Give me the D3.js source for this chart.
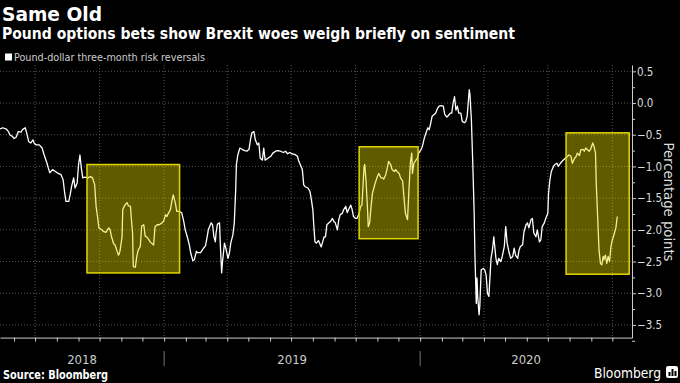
<!DOCTYPE html>
<html>
<head>
<meta charset="utf-8">
<script src="https://cdn.jsdelivr.net/npm/d3@7"></script>
<style>
  body { margin: 0; background: #000; }
  svg { display: block; }
  text { font-family: "DejaVu Sans Condensed", "DejaVu Sans", sans-serif; }
</style>
</head>
<body>
<div id="chart"></div>
<script>
// Controlling constants
const svgWidth = 680,
  svgHeight = 383;
const plot = { left: 0, right: 632, top: 65, bottom: 337.6 };

// Data: day counts from the first observation, and the risk reversal values
const startDay = "2018-05-12";
const endDay = "2020-10-29";
const dayOffsets = [
  0, 4, 9, 12, 14, 18, 20, 23, 26, 30, 32, 36, 38, 41, 44, 47, 49, 52, 56, 60,
  63, 67, 69, 71, 75, 79, 83, 87, 90, 92, 94, 98, 100, 102, 105, 107, 110, 112, 114, 116,
  118, 121, 125, 129, 132, 135, 137, 139, 141,
  145, 148, 151, 155, 157, 159, 162, 164, 167, 169, 171, 174, 175, 178, 181, 183, 186, 187, 189, 190,
  193, 195, 197, 200, 202, 205, 207, 209, 212, 214, 217, 219, 221, 224, 227, 231, 233, 236, 238, 240,
  243, 245, 247, 250, 252, 256, 259, 262, 264, 267, 270, 272, 275, 277, 280, 282, 286,
  289, 293, 295, 297, 301, 303, 305, 307, 308, 310, 313, 314, 316, 317, 320, 322, 325, 327, 329, 332,
  334, 336, 337, 339, 342, 345, 349, 352, 355, 357, 359, 362, 364, 367, 369, 371, 374, 376, 378, 382,
  386, 389, 393, 396, 400, 404, 407, 410, 413, 416, 420, 424, 426, 428, 431, 433, 435, 439, 442,
  444, 446, 447, 449, 451, 454, 456, 458, 462, 464, 466, 469, 471, 474, 476, 478, 481, 483, 485, 488,
  490, 493, 495, 497, 500, 502, 504, 507, 509, 512, 514, 516, 519, 520, 522, 524, 525, 527, 529, 531,
  533, 535, 538, 540, 543, 545, 547, 550, 552, 554, 557, 559, 562, 564, 566, 569, 571, 574, 576, 578,
  581, 583, 585, 587, 588, 590, 593, 595, 597,
  600, 602, 605, 608, 610, 612, 614, 616, 619, 621, 624, 626, 629, 632, 634, 637, 639, 642, 644, 646,
  648, 650, 652, 654, 657, 659, 662, 664, 666, 669, 670, 672, 674, 676, 677, 679, 680, 681, 683, 684,
  686, 689, 691, 693, 695, 697, 700, 702, 704, 707, 709, 711, 714, 716, 719, 721, 723, 726,
  728, 731, 733, 735, 738, 740, 742, 745, 747, 750, 752, 754, 757, 759, 761, 764, 766, 769, 771, 773,
  776, 778, 781, 782, 784, 786, 789, 791, 794, 796, 799, 802, 805, 808, 811, 814, 816, 819, 821, 823,
  826, 828, 831, 833, 835, 838, 840, 842, 845, 847, 849, 850, 852, 854, 856, 858, 860, 861, 863, 865,
  867, 869, 871, 873, 876, 878, 880,
];
const riskReversals = [
  -0.41, -0.39, -0.41, -0.45, -0.5, -0.53, -0.56, -0.54, -0.45, -0.46,
  -0.42, -0.39, -0.47, -0.61, -0.63, -0.58, -0.64, -0.66, -0.66, -0.71,
  -0.82, -0.95, -1.03, -1.1, -1.05, -1.08, -1.11, -1.13, -1.21, -1.4,
  -1.55, -1.55, -1.45, -1.32, -1.18, -1.34, -1.26, -0.97, -0.82, -1.03,
  -1.18, -1.17, -1.18, -1.16, -1.18, -1.29, -1.63, -1.79, -1.97,
  -2.0, -2.03, -2.04, -1.97, -2.0, -2.11, -2.22, -2.24, -2.34, -2.4,
  -2.34, -2.11, -1.68, -1.61, -1.57, -1.62, -1.63, -1.79, -2.05, -2.58,
  -2.59, -2.42, -2.32, -2.26, -1.94, -1.92, -2.1, -2.11, -2.15, -2.19,
  -2.22, -2.24, -1.95, -1.92, -1.92, -1.89, -1.87, -1.76, -1.79, -1.74,
  -1.68, -1.55, -1.45, -1.58, -1.71, -1.71, -1.73, -1.87, -2.0, -2.11,
  -2.24, -2.37, -2.49, -2.47, -2.34, -2.36, -2.36,
  -2.31, -2.25, -2.13, -2.0, -1.89, -1.92, -2.11, -2.19, -2.05, -1.91,
  -1.89, -2.21, -2.68, -2.53, -2.21, -2.29, -2.45, -2.37, -2.21, -2.08,
  -1.89, -1.37, -0.97, -0.82, -0.71, -0.73, -0.75, -0.76, -0.73, -0.58,
  -0.47, -0.45, -0.58, -0.66, -0.63, -0.87, -0.9, -0.71, -0.9, -0.87,
  -0.84, -0.79, -0.76, -0.75, -0.76, -0.78, -0.76, -0.8, -0.78, -0.8,
  -0.81, -0.84, -0.92, -0.97, -1.05, -1.29, -1.32, -1.34, -1.4,
  -1.53, -1.68, -1.87, -2.19, -2.21, -2.17, -2.22, -2.27, -2.11, -2.11,
  -1.92, -1.89, -1.87, -1.82, -1.87, -1.89, -2.0, -1.84, -1.76, -1.74,
  -1.68, -1.63, -1.73, -1.68, -1.61, -1.68, -1.79, -1.82, -1.82, -1.74,
  -1.63, -1.61, -1.0, -0.97, -1.26, -1.68, -1.95, -1.89, -1.63, -1.42,
  -1.34, -1.26, -1.16, -1.11, -1.18, -1.18, -1.2, -1.13, -1.03, -0.92,
  -0.97, -1.05, -1.08, -1.05, -1.08, -1.11, -1.18, -1.23, -1.5, -1.74,
  -1.84, -1.37, -0.95, -0.79, -1.11, -0.95, -0.9, -0.87, -0.79,
  -0.74, -0.69, -0.55, -0.45, -0.39, -0.42, -0.32, -0.21, -0.18, -0.16,
  -0.08, -0.05, -0.04, -0.05, -0.18, -0.22, -0.2, -0.16, -0.16, 0.0,
  0.1, -0.11, -0.05, -0.16, -0.16, -0.29, -0.31, -0.29, -0.21, 0.21,
  0.13, -0.26, -0.95, -1.74, -2.37, -3.16, -2.76, -3.05, -3.34, -3.21,
  -2.63, -2.61, -2.63, -2.71, -3.0, -3.05, -2.45, -2.32, -2.11, -2.45,
  -2.55, -2.45, -2.5, -2.42, -2.26, -1.95, -2.21, -2.37,
  -2.45, -2.42, -2.29, -2.4, -2.45, -2.32, -2.26, -2.24, -2.03, -1.92,
  -1.89, -1.97, -1.84, -1.82, -2.05, -2.11, -2.0, -2.19, -2.16, -1.95,
  -1.89, -1.82, -1.74, -1.42, -1.21, -1.08, -1.0, -0.97, -0.95, -1.0,
  -0.95, -0.91, -0.88, -0.85, -0.82, -0.84, -0.95, -0.87, -0.85, -0.79,
  -0.83, -0.74, -0.73, -0.76, -0.71, -0.74, -0.76, -0.73, -0.63, -0.69,
  -0.79, -1.26, -1.79, -2.32, -2.53, -2.55, -2.42, -2.47, -2.4, -2.53,
  -2.42, -2.5, -2.26, -2.16, -2.05, -1.97, -1.79,
];

// Highlighted Brexit episodes
const highlightStarts = ["2018-09-13", "2019-10-06", "2020-07-27"];
const highlightEnds = ["2019-01-23", "2019-12-29", "2020-10-25"];
const highlightTops = [-0.97, -0.69, -0.47];
const highlightBottoms = [-2.68, -2.14, -2.7];

const yMajorTicks = [0.5, 0.0, -0.5, -1.0, -1.5, -2.0, -2.5, -3.0, -3.5];
const yMinorTicks = [0.25, -0.25, -0.75, -1.25, -1.75, -2.25, -2.75, -3.25, -3.75];
const yearLabels = ["2018", "2019", "2020"];

const parseDay = d3.timeParse("%Y-%m-%d");
const start = parseDay(startDay);
const data = dayOffsets.map((d, i) => ({
  date: d3.timeDay.offset(start, d),
  value: riskReversals[i],
}));

const svg = d3
  .select("#chart")
  .append("svg")
  .attr("width", svgWidth)
  .attr("height", svgHeight)
  .style("background", "#000");

const x = d3
  .scaleTime()
  .domain([start, parseDay(endDay)])
  .range([plot.left, plot.right]);
const y = d3.scaleLinear().domain([-3.7, 0.6]).range([plot.bottom, plot.top]);

// Titles
svg
  .append("text")
  .attr("x", 2)
  .attr("y", 21)
  .attr("fill", "#fff")
  .attr("font-size", 20)
  .attr("font-weight", "bold")
  .attr("textLength", 100)
  .attr("lengthAdjust", "spacingAndGlyphs")
  .text("Same Old");
svg
  .append("text")
  .attr("x", 2)
  .attr("y", 39)
  .attr("fill", "#fff")
  .attr("font-size", 15)
  .attr("font-weight", "bold")
  .attr("textLength", 513)
  .attr("lengthAdjust", "spacingAndGlyphs")
  .text("Pound options bets show Brexit woes weigh briefly on sentiment");

// Legend
svg.append("rect").attr("x", 5).attr("y", 53.5).attr("width", 7).attr("height", 7).attr("fill", "#fff");
svg
  .append("text")
  .attr("x", 14)
  .attr("y", 60.5)
  .attr("fill", "#ccc")
  .attr("font-size", 11)
  .attr("textLength", 191)
  .attr("lengthAdjust", "spacingAndGlyphs")
  .text("Pound-dollar three-month risk reversals");

// Grid lines
svg
  .append("g")
  .selectAll("line")
  .data(yMajorTicks)
  .enter()
  .append("line")
  .attr("x1", plot.left)
  .attr("x2", plot.right)
  .attr("y1", (d) => y(d))
  .attr("y2", (d) => y(d))
  .attr("stroke", "#555")
  .attr("stroke-dasharray", "1,2");
svg
  .append("g")
  .selectAll("line")
  .data(x.ticks(d3.timeMonth.every(3)))
  .enter()
  .append("line")
  .attr("x1", (d) => x(d))
  .attr("x2", (d) => x(d))
  .attr("y1", plot.top)
  .attr("y2", plot.bottom)
  .attr("stroke", "#555")
  .attr("stroke-dasharray", "1,2");

// The series
svg
  .append("path")
  .datum(data)
  .attr("fill", "none")
  .attr("stroke", "#fff")
  .attr("stroke-width", 1.3)
  .attr("stroke-linejoin", "round")
  .attr(
    "d",
    d3
      .line()
      .x((d) => x(d.date))
      .y((d) => y(d.value))
  );

// Highlight boxes, drawn over the line
svg
  .append("g")
  .selectAll("rect")
  .data(highlightStarts)
  .enter()
  .append("rect")
  .attr("x", (d) => x(parseDay(d)))
  .attr("width", (d, i) => x(parseDay(highlightEnds[i])) - x(parseDay(d)))
  .attr("y", (d, i) => y(highlightTops[i]))
  .attr("height", (d, i) => y(highlightBottoms[i]) - y(highlightTops[i]))
  .attr("fill", "rgba(232,218,0,0.42)")
  .attr("stroke", "#e2d600")
  .attr("stroke-width", 1.5);

// Y axis on the right
const yMinor = svg
  .append("g")
  .attr("transform", "translate(" + plot.right + ",0)")
  .call(d3.axisRight(y).tickValues(yMinorTicks).tickSize(3).tickFormat(""));
yMinor.select(".domain").remove();
const yAxis = svg
  .append("g")
  .attr("transform", "translate(" + plot.right + ",0)")
  .call(
    d3
      .axisRight(y)
      .tickValues(yMajorTicks)
      .tickSize(4)
      .tickSizeOuter(0)
      .tickPadding(1)
      .tickFormat(d3.format(".1f"))
  );
svg.selectAll(".tick line").attr("stroke", "#ccc");
yAxis.select(".domain").attr("stroke", "#ccc");
yAxis
  .selectAll("text")
  .attr("fill", "#ddd")
  .attr("font-size", 11.5)
  .attr("font-family", "'DejaVu Sans Condensed', 'DejaVu Sans', sans-serif");

svg
  .append("text")
  .attr("transform", "translate(664,202) rotate(90)")
  .attr("text-anchor", "middle")
  .attr("fill", "#ddd")
  .attr("font-size", 13.5)
  .attr("textLength", 119)
  .attr("lengthAdjust", "spacingAndGlyphs")
  .text("Percentage points");

// X axis with monthly ticks
const xAxis = svg
  .append("g")
  .attr("transform", "translate(0," + plot.bottom + ")")
  .call(d3.axisBottom(x).ticks(d3.timeMonth.every(1)).tickSize(4).tickSizeOuter(0).tickFormat(""));
xAxis.select(".domain").attr("stroke", "#ccc");
xAxis.selectAll(".tick line").attr("stroke", "#ccc");

// Year separators and labels
const yearStarts = yearLabels.map((d) => parseDay(d + "-01-01"));
svg
  .append("g")
  .selectAll("line")
  .data(yearStarts.slice(1))
  .enter()
  .append("line")
  .attr("x1", (d) => x(d))
  .attr("x2", (d) => x(d))
  .attr("y1", 351)
  .attr("y2", 366)
  .attr("stroke", "#777");
svg
  .append("g")
  .selectAll("text")
  .data(yearLabels)
  .enter()
  .append("text")
  .attr("x", (d, i) => {
    const a = Math.max(x(yearStarts[i]), plot.left);
    const b = i < yearLabels.length - 1 ? x(yearStarts[i + 1]) : plot.right;
    return (a + b) / 2;
  })
  .attr("y", 364)
  .attr("text-anchor", "middle")
  .attr("fill", "#ccc")
  .attr("font-size", 13)
  .text((d) => d);

// Footer
svg
  .append("text")
  .attr("x", 3)
  .attr("y", 379)
  .attr("fill", "#fff")
  .attr("font-size", 11.5)
  .attr("font-weight", "bold")
  .attr("textLength", 105)
  .attr("lengthAdjust", "spacingAndGlyphs")
  .text("Source: Bloomberg");
svg
  .append("text")
  .attr("x", 594)
  .attr("y", 378)
  .attr("fill", "#fff")
  .attr("font-size", 14)
  .attr("textLength", 67)
  .attr("lengthAdjust", "spacingAndGlyphs")
  .text("Bloomberg");
const logo = svg.append("g").attr("transform", "translate(666,366)");
logo.append("rect").attr("width", 12).attr("height", 12).attr("rx", 2).attr("fill", "#fff");
[
  [2.5, 6, 2, 4],
  [5.5, 3, 2, 7],
  [8.5, 5, 2, 5],
].forEach((b) =>
  logo.append("rect").attr("x", b[0]).attr("y", b[1]).attr("width", b[2]).attr("height", b[3]).attr("fill", "#000")
);
</script>
</body>
</html>
